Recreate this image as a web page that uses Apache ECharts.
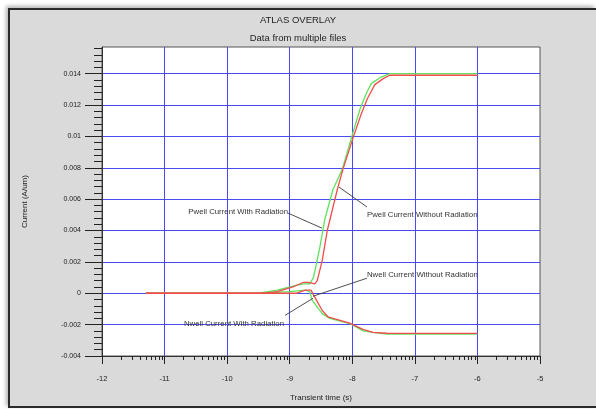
<!DOCTYPE html>
<html><head><meta charset="utf-8">
<script src="https://cdn.jsdelivr.net/npm/echarts@6/dist/echarts.min.js"></script>
<style>
html,body{margin:0;padding:0;background:#fff;width:596px;height:409px;overflow:hidden;}
#frame{position:absolute;left:8px;top:8px;width:586px;height:396px;background:#dadada;border:2px solid #2a2a2a;border-right:none;box-shadow:-2px -2px 4px rgba(0,0,0,0.3);}
#chart{position:absolute;left:0;top:0;width:596px;height:409px;}
</style></head><body>
<div id="frame"></div><div id="chart"></div>
<script>
// ---- data ----
const titleText = 'ATLAS OVERLAY';
const subtitleText = 'Data from multiple files';
const xAxisName = 'Transient time (s)';
const yAxisName = 'Current (A/um)';
const yTickValues = [-0.004, -0.002, 0, 0.002, 0.004, 0.006, 0.008, 0.01, 0.012, 0.014];
const xMin = -12, xMax = -5, yMin = -0.004, yMax = 0.0157;

const pwellWithRadiation = [[-11.3,0],[-9.5,0],[-9.2,0.0002],[-8.9,0.0005],[-8.78,0.0006],[-8.68,0.0006],[-8.62,0.001],[-8.52,0.0029],[-8.44,0.0047],[-8.31,0.0066],[-8.16,0.0079],[-8.0,0.0101],[-7.88,0.0117],[-7.77,0.0128],[-7.69,0.0134],[-7.53,0.0138],[-7.4,0.0140],[-6,0.0140]];
const nwellWithRadiation = [[-11.3,0],[-9.5,0],[-9.0,0.0001],[-8.75,0.0002],[-8.68,0.0001],[-8.64,-0.00045],[-8.48,-0.0013],[-8.36,-0.0016],[-8.07,-0.0019],[-8.0,-0.002],[-7.83,-0.0024],[-7.67,-0.0025],[-7.45,-0.0026],[-6,-0.0026]];
const pwellWithoutRadiation = [[-11.3,0],[-9.4,0],[-9.2,0.0001],[-8.95,0.0004],[-8.78,0.0007],[-8.7,0.0007],[-8.6,0.0006],[-8.56,0.0008],[-8.48,0.0021],[-8.4,0.004],[-8.24,0.0066],[-8.15,0.0079],[-7.98,0.0100],[-7.86,0.0114],[-7.76,0.0124],[-7.64,0.0133],[-7.5,0.0137],[-7.4,0.0139],[-6,0.0139]];
const nwellWithoutRadiation = [[-11.3,0],[-9.5,0],[-8.9,0],[-8.75,0.0002],[-8.66,0.0002],[-8.6,-0.00025],[-8.48,-0.0011],[-8.39,-0.0015],[-8.04,-0.0019],[-7.83,-0.0023],[-7.67,-0.0025],[-7.45,-0.00255],[-6,-0.00256]];

const annotationTexts = ['Pwell Current With Radiation','Pwell Current Without Radiation','Nwell Current Without Radiation','Nwell Current With Radiation'];
const annotationAnchors = [[-8.484,0.00415],[-8.212,0.00677],[-8.628,-0.00019],[-8.628,-0.00032]];
const annotationElbows = [[-9.027,0.00511],[-7.765,0.0055],[-7.765,0.00096],[-9.075,-0.00141]];
const annotationTextPos = [[-9.027,0.00518],[-7.765,0.00498],[-7.765,0.00115],[-9.091,-0.00192]];
const annotationAlign = ['right','left','left','right'];

// log-style minor ticks on the x axis (decoration)
const xMinorTicks = [];
for (let i = xMin; i < xMax; i++) for (let k = 2; k <= 9; k++) xMinorTicks.push(i + Math.log10(k));

const FONT = '"Liberation Sans", Arial, sans-serif';
const chart = echarts.init(document.getElementById('chart'), null, {renderer:'canvas'});

const lineSeries = (name, data, color) => ({
  name, type:'line', data, symbol:'none', smooth:false, z:3,
  lineStyle:{color, width:1.3}, itemStyle:{color}, silent:true, animation:false
});

chart.setOption({
  animation:false,
  backgroundColor:'transparent',
  title:{
    text:titleText, subtext:subtitleText, left:'center', top:15, itemGap:8, padding:[0,0,0,6],
    textStyle:{fontFamily:FONT, fontSize:9.5, fontWeight:'normal', color:'#222'},
    subtextStyle:{fontFamily:FONT, fontSize:9.5, color:'#222'}
  },
  grid:{left:102, right:56, top:47, bottom:53, show:true, backgroundColor:'#fff', borderColor:'#555', borderWidth:1},
  xAxis:{
    type:'value', min:xMin, max:xMax, interval:1,
    name:xAxisName, nameLocation:'middle', nameGap:38,
    nameTextStyle:{fontFamily:FONT, fontSize:8, color:'#222'},
    axisLine:{show:true, onZero:false, lineStyle:{color:'#333', width:1}},
    axisTick:{show:true, length:8, lineStyle:{color:'#222'}},
    axisLabel:{margin:19, fontFamily:FONT, fontSize:7.5, color:'#222'},
    splitLine:{show:true, showMinLine:false, showMaxLine:false, lineStyle:{color:'#4a4af5', width:1}}
  },
  yAxis:{
    type:'value', min:yMin, max:yMax, interval:0.002,
    name:yAxisName, nameLocation:'middle', nameGap:73, nameRotate:90,
    nameTextStyle:{fontFamily:FONT, fontSize:8, color:'#222'},
    axisLine:{show:true, lineStyle:{color:'#333', width:1}},
    axisTick:{show:true, length:17, customValues:yTickValues, lineStyle:{color:'#222'}},
    minorTick:{show:true, splitNumber:5, length:8, lineStyle:{color:'#222'}},
    axisLabel:{margin:21, customValues:yTickValues, fontFamily:FONT, fontSize:7, color:'#222'},
    splitLine:{show:true, lineStyle:{color:'#4a4af5', width:1}}
  },
  series:[
    lineSeries('Pwell Current With Radiation', pwellWithRadiation, '#5ee25e'),
    lineSeries('Nwell Current With Radiation', nwellWithRadiation, '#5ee25e'),
    lineSeries('Pwell Current Without Radiation', pwellWithoutRadiation, '#f24c4c'),
    lineSeries('Nwell Current Without Radiation', nwellWithoutRadiation, '#f24c4c'),
    {
      type:'custom', coordinateSystem:'cartesian2d', clip:false, silent:true, z:5,
      data: xMinorTicks.map(v => [v, yMin]),
      renderItem:(p, api) => {
        const pt = api.coord([api.value(0), api.value(1)]);
        const x = Math.round(pt[0]) + 0.5;
        return {type:'line', shape:{x1:x, y1:pt[1], x2:x, y2:pt[1]+4}, style:{stroke:'#222', lineWidth:1}};
      }
    },
    {
      type:'custom', coordinateSystem:'cartesian2d', clip:false, silent:true, z:6,
      data: annotationTexts.map((t, i) => [annotationAnchors[i][0], annotationAnchors[i][1], i]),
      renderItem:(p, api) => {
        const i = api.value(2);
        const a = api.coord(annotationAnchors[i]);
        const e = api.coord(annotationElbows[i]);
        const tp = api.coord(annotationTextPos[i]);
        return {type:'group', children:[
          {type:'line', shape:{x1:e[0], y1:e[1], x2:a[0], y2:a[1]}, style:{stroke:'#3a3a3a', lineWidth:0.9}},
          {type:'text', x:tp[0], y:tp[1], style:{text:annotationTexts[i], fill:'#333', fontFamily:FONT, fontSize:7.8, align:annotationAlign[i], verticalAlign:'middle'}}
        ]};
      }
    }
  ]
});
</script>
</body></html>
